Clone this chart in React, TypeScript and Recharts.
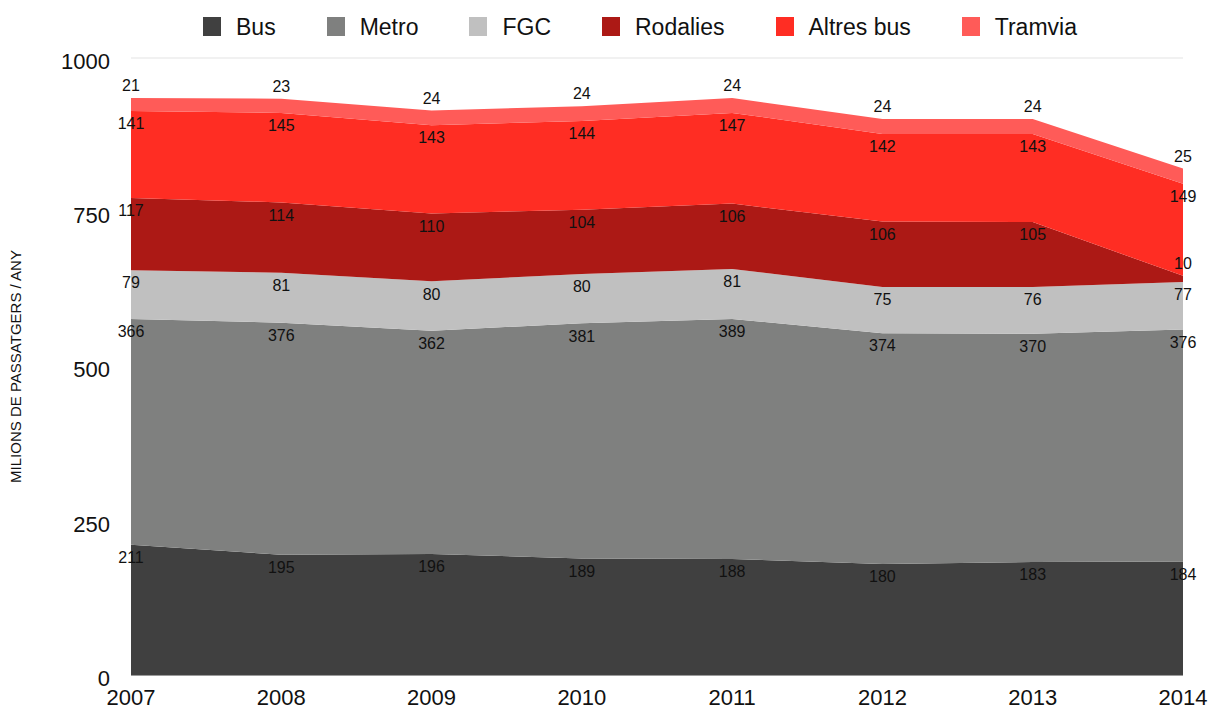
import React from 'react';
import { AreaChart, Area, XAxis, YAxis, CartesianGrid, Legend, LabelList } from 'recharts';

const years = ['2007', '2008', '2009', '2010', '2011', '2012', '2013', '2014'];
const bus = [211, 195, 196, 189, 188, 180, 183, 184];
const metro = [366, 376, 362, 381, 389, 374, 370, 376];
const fgc = [79, 81, 80, 80, 81, 75, 76, 77];
const rodalies = [117, 114, 110, 104, 106, 106, 105, 10];
const altresBus = [141, 145, 143, 144, 147, 142, 143, 149];
const tramvia = [21, 23, 24, 24, 24, 24, 24, 25];
const yTicks = [0, 250, 500, 750, 1000];

const series = [
    { key: 'bus', name: 'Bus', values: bus, color: '#404040' },
    { key: 'metro', name: 'Metro', values: metro, color: '#7f807f' },
    { key: 'fgc', name: 'FGC', values: fgc, color: '#c0c0c0' },
    { key: 'rodalies', name: 'Rodalies', values: rodalies, color: '#ac1915' },
    { key: 'altres', name: 'Altres bus', values: altresBus, color: '#ff2d23' },
    { key: 'tramvia', name: 'Tramvia', values: tramvia, color: '#ff5b58' },
];

const data = years.map((year, i) => {
    const row: any = { year };
    series.forEach(s => { row[s.key] = s.values[i]; });
    return row;
});

const FONT = '"Liberation Sans", Arial, Helvetica, sans-serif';

// labels sit just under the top edge of each layer, except the top layer (above)
const labelDy = (key: string, index: number) => {
    if (key === 'tramvia') return -11;
    if (key === 'rodalies' && index === years.length - 1) return -11;
    return 14;
};

const makeLabel = (key: string, values: number[]) => (props: any) => {
    const { x, y, index } = props;
    if (x == null || y == null) return null;
    return (
        <text
            x={x}
            y={y + labelDy(key, index)}
            textAnchor="middle"
            dominantBaseline="middle"
            fontSize={16}
            fontFamily={FONT}
            fill="#111"
        >
            {values[index]}
        </text>
    );
};

const CustomLegend = () => (
    <div style={{ display: 'flex', paddingLeft: 203, paddingTop: 17, height: 41, fontFamily: FONT }}>
        {series.map(s => (
            <div key={s.key} style={{ display: 'flex', alignItems: 'center', marginRight: 51, height: 19 }}>
                <div style={{ width: 18, height: 19, background: s.color, marginRight: 15 }} />
                <span style={{ fontSize: 23, color: '#111', lineHeight: '19px', position: 'relative', top: 1 }}>{s.name}</span>
            </div>
        ))}
    </div>
);

const YLabel = (props: any) => {
    const vb = props.viewBox || { y: 58, height: 617 };
    const cy = vb.y + vb.height / 2;
    return (
        <text
            x={17}
            y={cy}
            transform={`rotate(-90 17 ${cy})`}
            textAnchor="middle"
            dominantBaseline="middle"
            fontSize={15}
            fontFamily={FONT}
            fill="#111"
        >
            MILIONS DE PASSATGERS / ANY
        </text>
    );
};

const App: React.FC = () => {
    return (
        <div style={{ position: 'absolute', left: 0, top: 0, width: 1213, height: 711, background: '#fff' }}>
            <AreaChart width={1213} height={711} data={data} margin={{ top: 0, right: 30, left: 0, bottom: 0 }}>
                <Legend verticalAlign="top" height={58} content={<CustomLegend />} wrapperStyle={{ left: 0, top: 0, width: 1213 }} />
                <CartesianGrid vertical={false} stroke="#e3e3e3" />
                <XAxis
                    dataKey="year"
                    height={36}
                    interval={0}
                    tickSize={0}
                    tickMargin={14}
                    axisLine={{ stroke: '#444' }}
                    tick={{ fontSize: 22, fill: '#111', fontFamily: FONT }}
                />
                <YAxis
                    width={131}
                    domain={[0, 1000]}
                    ticks={yTicks}
                    tickSize={0}
                    tickMargin={21}
                    axisLine={false}
                    tick={{ fontSize: 22, fill: '#111', fontFamily: FONT, dy: 3 }}
                    label={<YLabel />}
                />
                {series.map(s => (
                    <Area
                        key={s.key}
                        type="linear"
                        dataKey={s.key}
                        name={s.name}
                        stackId="1"
                        stroke="none"
                        fill={s.color}
                        fillOpacity={1}
                        isAnimationActive={false}
                    >
                        <LabelList dataKey={s.key} content={makeLabel(s.key, s.values)} />
                    </Area>
                ))}
            </AreaChart>
        </div>
    );
};

export default App;
